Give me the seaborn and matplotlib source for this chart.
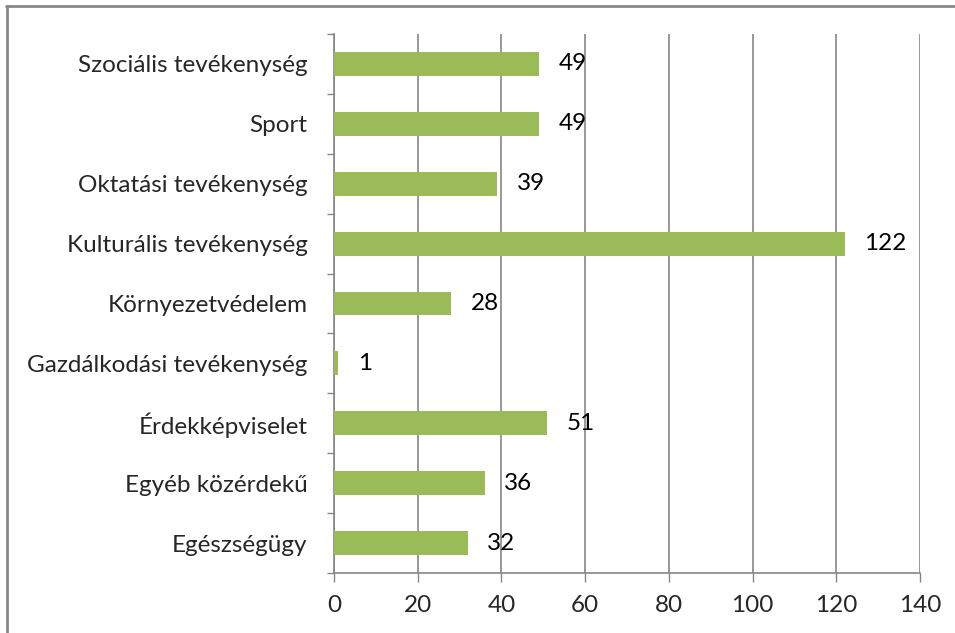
import matplotlib
matplotlib.use("Agg")
import matplotlib.pyplot as plt
import seaborn as sns
import pandas as pd
from matplotlib.lines import Line2D
from matplotlib.ticker import FixedLocator

# adatok (felülről lefelé)
categories = ["Szociális tevékenység", "Sport", "Oktatási tevékenység",
              "Kulturális tevékenység", "Környezetvédelem",
              "Gazdálkodási tevékenység", "Érdekképviselet",
              "Egyéb közérdekű", "Egészségügy"]
values = [49, 49, 39, 122, 28, 1, 51, 36, 32]
x_ticks = [0, 20, 40, 60, 80, 100, 120, 140]

df = pd.DataFrame({"kategoria": categories, "darab": values})

sns.set_style("white")
plt.rcParams["font.family"] = ["Lato", "DejaVu Sans"]

grid_col = "#868686"
fs = 17.5

fig = plt.figure(figsize=(9.55, 6.33), dpi=100)
ax = fig.add_axes([0.3497, 0.0948, 0.6137, 0.8515])

sns.barplot(data=df, x="darab", y="kategoria", orient="h",
            color="#9BBB59", width=0.4, saturation=1, linewidth=0,
            ax=ax, zorder=3)

ax.bar_label(ax.containers[0], labels=[str(v) for v in values],
             padding=14, fontsize=fs, color="black")

ax.set_xlim(0, 140)
ax.set_ylim(len(categories) - 0.5, -0.5)
ax.set_xticks(x_ticks)
ax.set_xlabel("")
ax.set_ylabel("")

ax.xaxis.grid(True, color=grid_col, linewidth=1.2, zorder=0)
ax.yaxis.grid(False)
ax.set_axisbelow(True)

for side in ["top", "right"]:
    ax.spines[side].set_visible(False)
for side in ["left", "bottom"]:
    ax.spines[side].set_color(grid_col)
    ax.spines[side].set_linewidth(1.2)

ax.tick_params(axis="x", length=6.5, width=1, color=grid_col, pad=9,
               labelsize=fs, bottom=True)
ax.tick_params(axis="y", which="major", length=0, pad=19, labelsize=fs)
ax.yaxis.set_minor_locator(FixedLocator([i - 0.5 for i in range(len(categories) + 1)]))
ax.tick_params(axis="y", which="minor", length=5, width=1, color=grid_col, left=True)

# keret a kép szélén
fig.add_artist(Line2D([0.007, 0.007], [0.0, 0.991], color="#888888", linewidth=2,
                      transform=fig.transFigure))
fig.add_artist(Line2D([0.006, 1.0], [0.991, 0.991], color="#888888", linewidth=2,
                      transform=fig.transFigure))

fig.savefig("out.png", dpi=100, facecolor="white")
